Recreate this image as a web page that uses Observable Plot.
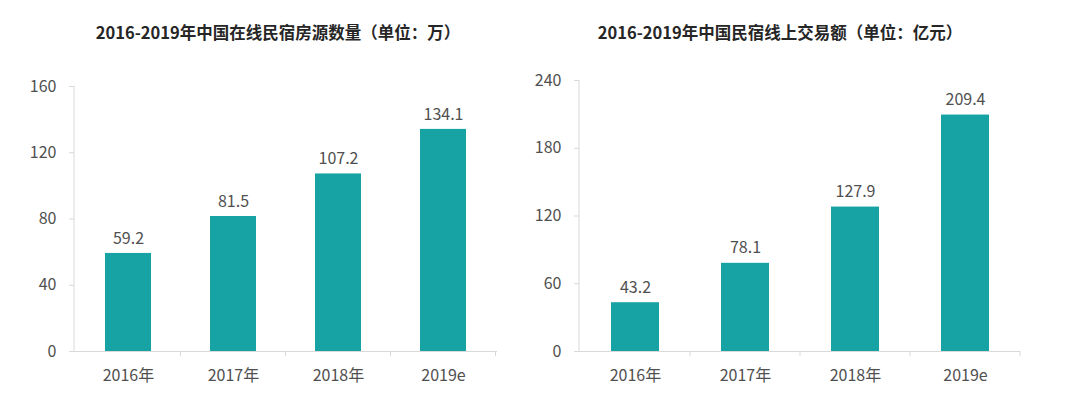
<!DOCTYPE html>
<html>
<head>
<meta charset="utf-8">
<script src="https://cdn.jsdelivr.net/npm/d3@7"></script>
<script src="https://cdn.jsdelivr.net/npm/@observablehq/plot@0.6"></script>
<style>
  html, body { margin: 0; padding: 0; background: #fff; }
  body { width: 1080px; height: 398px; overflow: hidden; font-family: "Noto Sans CJK SC", "Noto Sans", sans-serif; }
  #wrap { position: relative; width: 1080px; height: 398px; }
  .title { position: absolute; top: 19px; height: 26px; line-height: 26px; font-size: 16.5px; font-weight: bold; color: #262626; white-space: nowrap; transform: translateX(-50%); }
  .chart { position: absolute; top: 60px; }
</style>
</head>
<body>
<div id="wrap">
  <div class="title" style="left:278px">2016-2019年中国在线民宿房源数量（单位：万）</div>
  <div class="title" style="left:780px">2016-2019年中国民宿线上交易额（单位：亿元）</div>
  <div class="chart" id="c1" style="left:0px"></div>
  <div class="chart" id="c2" style="left:510px"></div>
</div>
<script>
const categories = ["2016年", "2017年", "2018年", "2019e"];
const listings = [59.2, 81.5, 107.2, 134.1];
const gmv = [43.2, 78.1, 127.9, 209.4];
const listingTicks = [0, 40, 80, 120, 160];
const gmvTicks = [0, 60, 120, 180, 240];

const barColor = "#17a2a3";
const axisColor = "#d9d9d9";
const textColor = "#505050";

function axisLines(index, scales, values, dimensions) {
  const x = scales.x;
  const y = scales.y;
  const bw = x.bandwidth();
  const step = x.step();
  const y0 = y(0);
  const g = d3.create("svg:g");
  const left = dimensions.marginLeft;
  const top = dimensions.marginTop;
  g.append("line").attr("x1", left).attr("x2", left).attr("y1", top).attr("y2", y0)
    .attr("stroke", axisColor).attr("stroke-width", 1);
  categories.forEach(c => {
    const px = x(c) + bw / 2 + step / 2;
    g.append("line").attr("x1", px).attr("x2", px).attr("y1", y0).attr("y2", y0 + 5)
      .attr("stroke", axisColor).attr("stroke-width", 1);
  });
  return g.node();
}

function makeChart(values, ticks, opts) {
  const data = categories.map((c, i) => ({cat: c, value: values[i]}));
  return Plot.plot({
    width: 540,
    height: 338,
    marginTop: opts.marginTop,
    marginBottom: 47,
    marginLeft: opts.marginLeft,
    marginRight: opts.marginRight,
    style: {fontFamily: '"Noto Sans CJK SC", "Noto Sans", sans-serif', fontSize: "16px", color: textColor, background: "transparent"},
    x: {domain: categories, paddingInner: 0.565, paddingOuter: 0.2825, label: null},
    y: {domain: [0, ticks[ticks.length - 1]], ticks: ticks, label: null},
    marks: [
      Plot.axisY({ticks: ticks, tickSize: 5, tickPadding: 13, stroke: axisColor, color: textColor, fontSize: 16, label: null}),
      Plot.axisX({tickSize: 0, tickPadding: 18, color: textColor, fontSize: 16, label: null}),
      Plot.ruleY([0], {stroke: axisColor}),
      axisLines,
      Plot.barY(data, {x: "cat", y: "value", fill: barColor}),
      Plot.text(data, {x: "cat", y: "value", text: d => d.value.toFixed(1), dy: -15, fill: textColor, fontSize: 16})
    ]
  });
}

document.getElementById("c1").append(makeChart(listings, listingTicks, {marginTop: 26, marginLeft: 74, marginRight: 43}));
document.getElementById("c2").append(makeChart(gmv, gmvTicks, {marginTop: 20, marginLeft: 69, marginRight: 30}));
</script>
</body>
</html>
